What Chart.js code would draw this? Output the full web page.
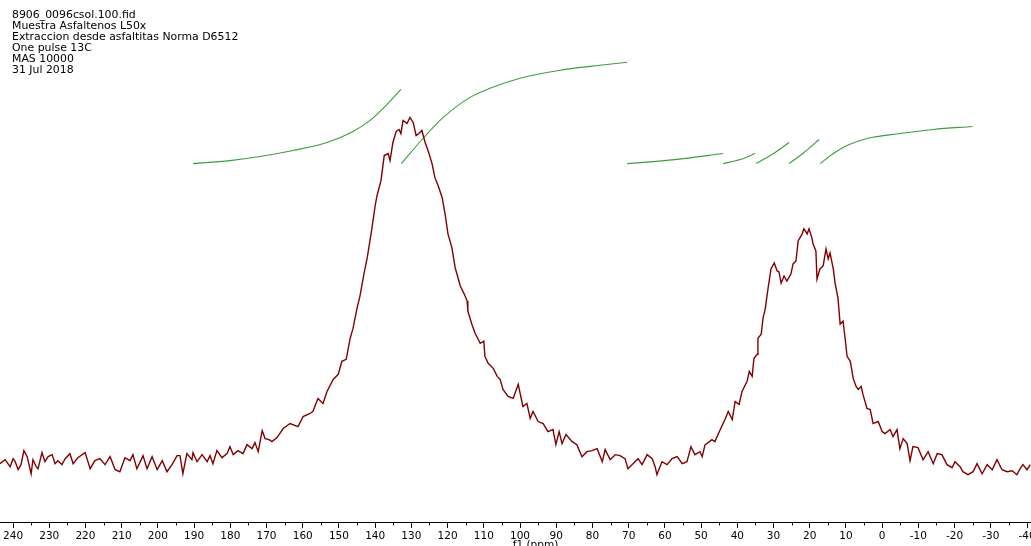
<!DOCTYPE html>
<html lang="en">
<head>
<meta charset="UTF-8" />
<title>13C MAS - Asfaltenos L50x</title>
<script src="https://cdn.jsdelivr.net/npm/chart.js@4.4.1/dist/chart.umd.min.js"></script>
<style>
  html, body { margin: 0; padding: 0; background: #fff; }
  .frame { position: relative; width: 1031px; height: 546px; overflow: hidden; }
  #chart { position: absolute; left: -20px; top: 0; }
  .info {
    position: absolute; left: 12px; top: 10px;
    font: 10.9px "DejaVu Sans", Verdana, sans-serif; line-height: 10.9px;
    color: #000; white-space: pre;
  }
</style>
</head>
<body>
<div class="frame">
  <canvas id="chart" width="1071" height="552"></canvas>
  <div class="info">8906_0096csol.100.fid
Muestra Asfaltenos L50x
Extraccion desde asfaltitas Norma D6512
One pulse 13C
MAS 10000
31 Jul 2018</div>
</div>
<script>
// chemical shift (ppm) and intensity (a.u.)
const ppm = [
  243.6, 242.2, 240.8, 240.0, 239.4, 238.6, 237.8, 237.0, 236.1, 235.0, 234.5, 233.6, 233.1, 232.0, 231.2,
  230.3, 229.2, 228.4, 227.6, 226.5, 225.6, 224.3, 223.4, 222.1, 220.1, 218.7, 217.4, 216.0, 214.6,
  213.2, 211.8, 210.5, 209.1, 207.7, 206.9, 205.8, 204.1, 203.0, 201.6, 200.2, 198.8, 197.5, 196.1,
  194.7, 193.9, 193.1, 192.0, 190.6, 190.3, 189.2, 187.8, 186.4, 185.6, 184.8, 183.7, 182.3, 180.9,
  180.1, 179.2, 177.9, 176.5, 175.4, 174.0, 173.2, 172.3, 171.2, 170.4, 169.3, 168.5, 167.1, 165.4,
  163.5, 161.3, 159.9, 158.0, 157.2, 155.8, 154.4, 153.3, 151.6, 150.2, 149.2, 148.0, 146.9, 146.1,
  145.0, 144.2, 143.1, 142.2, 141.1, 140.6, 140.0, 139.5, 138.4, 137.5, 136.4, 135.9, 135.1, 134.2,
  133.4, 132.9, 132.3, 131.2, 130.4, 129.5, 128.7, 127.9, 127.1, 126.2, 125.4, 124.3, 123.5, 122.6,
  121.5, 120.7, 119.9, 118.8, 117.9, 117.1, 116.5, 115.4, 114.6, 114.4, 113.3, 112.4, 111.0, 110.0,
  109.7, 108.8, 107.4, 106.3, 105.5, 104.7, 103.3, 101.9, 100.5, 99.2, 98.1, 97.2, 96.4, 95.0, 93.6,
  92.3, 90.9, 90.1, 89.2, 88.4, 87.3, 85.6, 84.3, 82.9, 81.5, 80.1, 78.7, 77.3, 76.5, 75.1, 73.7,
  72.4, 71.0, 70.2, 68.8, 67.4, 66.3, 64.9, 63.5, 62.7, 62.2, 60.8, 59.4, 58.0, 56.6, 55.2, 53.9,
  52.8, 51.7, 50.3, 49.7, 48.9, 48.4, 47.0, 46.2, 44.7, 43.4, 42.5, 41.4, 40.6, 39.5, 38.7, 37.3,
  36.7, 35.9, 35.4, 34.5, 34.3, 33.4, 32.9, 32.3, 31.5, 30.7, 29.8, 29.0, 28.5, 27.9, 27.1, 26.3,
  25.2, 24.6, 23.8, 23.2, 22.1, 21.6, 20.7, 20.2, 19.4, 19.1, 18.3, 18.0, 17.2, 16.3, 15.5, 14.9,
  14.4, 13.5, 13.0, 12.2, 11.6, 10.8, 10.2, 9.7, 8.8, 8.0, 7.2, 6.6, 5.8, 5.3, 4.2, 3.3, 2.5, 1.1,
  0.0, -0.8, -2.2, -3.0, -4.1, -4.9, -5.8, -6.9, -7.7, -8.5, -9.9, -11.3, -12.7, -14.1, -15.2,
  -16.5, -17.9, -19.3, -20.1, -21.5, -22.3, -23.7, -25.1, -26.2, -27.6, -29.0, -30.4, -31.7, -33.1,
  -34.5, -35.9, -37.2, -38.1, -38.9, -40.0, -40.9
];
const intensity = [
  0, 4, -3, 5, 2, -6, -1, 13, 7, -10, 4, -3, -5, 11, 2,
  7, 9, 0, 3, -1, 5, 10, 0, 6, 11, -5, 3, 5, -1,
  7, -6, -8, 6, 3, 9, -5, 8, -5, 7, -6, 3, -8, -1,
  8, 8, -10, 10, 4, 11, 2, 9, 2, 8, 0, 13, 6, 10,
  17, 9, 13, 10, 19, 15, 21, 12, 33, 25, 24, 22, 26, 35,
  40, 37, 47, 50, 52, 65, 60, 72, 84, 89, 102, 104, 125, 135,
  155, 167, 189, 205, 230, 242, 257, 267, 282, 307, 309, 302, 320, 331,
  333, 329, 342, 339, 345, 340, 327, 329, 332, 320, 312, 299, 285, 277,
  265, 249, 229, 215, 195, 185, 177, 169, 162, 152, 139, 130, 120, 122,
  107, 100, 95, 87, 84, 74, 67, 65, 79, 57, 60, 45, 52, 42, 40,
  32, 34, 19, 32, 20, 29, 22, 19, 7, 12, 13, 15, 2, 14, 4, 9,
  8, 5, -5, 0, 5, -1, 9, 5, -3, -11, 2, -1, 5, 7, 0, 2,
  17, 9, 12, 7, 19, 20, 24, 22, 34, 44, 52, 44, 62, 59, 72, 82,
  92, 87, 105, 109, 125, 129, 145, 154, 175, 194, 200, 192, 191, 180, 187, 182,
  189, 199, 202, 222, 229, 234, 229, 234, 225, 219, 212, 184, 194, 197, 214, 204,
  210, 194, 180, 165, 139, 142, 124, 107, 102, 85, 77, 74, 77, 69, 55, 54, 40, 42,
  32, 30, 34, 27, 34, 15, 25, 20, 3, 17, 16, 4, 12, 0, 10,
  9, -1, -4, 2, -3, -8, -11, -8, 0, -10, -1, -6, 4, -6,
  -8, -7, -11, -5, -1, -6, -1
];

// integral curves, one segment per region
const integralPpm = [
  [190.3, 180.1, 171.8, 162.7, 153.3, 146.1, 141.4, 136.7, 132.9],
  [132.8, 126.8, 121.2, 113.8, 108.3, 100.0, 88.9, 77.9, 70.4],
  [70.4, 57.2, 43.9],
  [43.9, 39.2, 35.1],
  [34.8, 30.0, 25.7],
  [25.7, 21.6, 17.4],
  [17.1, 13.5, 9.7, 4.2, -5.0, -14.1, -24.9]
];
const integralVal = [
  [299, 302, 306, 312, 320, 331, 342, 358, 373],
  [299, 324, 345, 365, 374, 384, 392, 397, 400],
  [299, 303, 309],
  [299, 303, 309],
  [299, 309, 320],
  [299, 310, 323],
  [299, 309, 317, 324, 329, 333, 336]
];

const tickValues = [240, 230, 220, 210, 200, 190, 180, 170, 160, 150, 140, 130, 120, 110, 100,
  90, 80, 70, 60, 50, 40, 30, 20, 10, 0, -10, -20, -30, -40];

const minorTicks = {
  id: 'minorTicks',
  afterDraw(chart) {
    const s = chart.scales.x, c = chart.ctx;
    c.save();
    c.strokeStyle = '#000';
    c.lineWidth = 1;
    c.beginPath();
    tickValues.slice(1).forEach(v => {
      const px = Math.round(s.getPixelForValue(v + 5)) + 0.5;
      c.moveTo(px, s.top);
      c.lineTo(px, s.top + 2.5);
    });
    c.stroke();
    c.restore();
  }
};

const datasets = [{
  data: ppm.map((p, i) => ({ x: p, y: intensity[i] })),
  borderColor: '#800000',
  borderWidth: 1.4,
  pointRadius: 0,
  tension: 0
}];
integralPpm.forEach((seg, k) => {
  datasets.push({
    data: seg.map((p, i) => ({ x: p, y: integralVal[k][i] })),
    borderColor: '#3c9c3c',
    borderWidth: 1.1,
    pointRadius: 0,
    cubicInterpolationMode: 'monotone'
  });
});

new Chart(document.getElementById('chart'), {
  type: 'line',
  data: { datasets },
  plugins: [minorTicks],
  options: {
    responsive: false,
    animation: false,
    layout: { padding: { left: 20, right: 20, top: 0, bottom: 0 } },
    plugins: { legend: { display: false }, tooltip: { enabled: false } },
    scales: {
      x: {
        type: 'linear',
        reverse: true,
        min: -41.1,
        max: 243.6,
        afterBuildTicks: s => { s.ticks = tickValues.map(v => ({ value: v })); },
        ticks: {
          autoSkip: false,
          maxRotation: 0,
          color: '#000',
          padding: 3,
          font: { family: 'DejaVu Sans', size: 10.5, lineHeight: 1 },
          callback: v => String(v)
        },
        grid: { drawOnChartArea: false, drawTicks: true, tickLength: 5, color: '#000', tickColor: '#000' },
        border: { display: true, color: '#000', width: 1 },
        title: {
          display: true,
          text: ' '.repeat(12) + 'f1 (ppm)',
          color: '#000',
          font: { family: 'DejaVu Sans', size: 10.5, lineHeight: 1.2 },
          padding: { top: -5, bottom: 0 }
        }
      },
      y: { display: false, min: -59, max: 462 }
    }
  }
});
</script>
</body>
</html>
